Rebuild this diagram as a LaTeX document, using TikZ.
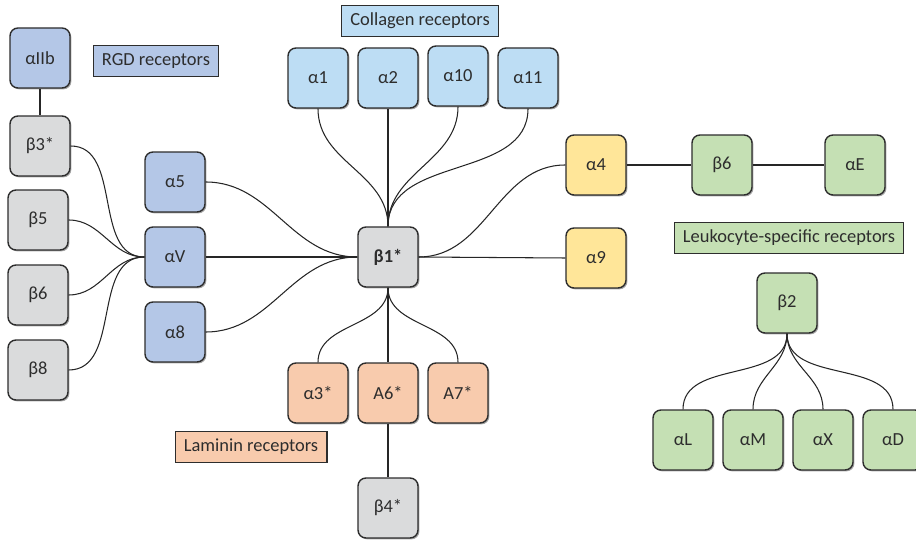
\documentclass[tikz,border=0pt]{standalone}
\usepackage{fontspec}
\setmainfont{Carlito}
\usepackage{tikz}
\usetikzlibrary{
    positioning,
    shadows
}
\definecolor{gridGrey}{RGB}{218, 219, 220}
\definecolor{rgdBlue}{RGB}{180, 199, 231}
\definecolor{colBlue}{RGB}{189, 221, 244}
\definecolor{lamPeach}{RGB}{248, 203, 173}
\definecolor{leuYellow}{RGB}{255, 230, 153}
\definecolor{leuGreen}{RGB}{197, 224, 180}
\definecolor{inkGrey}{RGB}{45, 45, 45}

\begin{document}
\begin{tikzpicture}[x=0.02cm, y=0.02cm,
        font=\fontsize{10.5}{12}\selectfont, text=inkGrey,
        unit/.style={draw=inkGrey, line width=0.8pt, rounded corners=4.5pt,
            minimum width=1.2cm, minimum height=1.2cm, inner sep=0pt,
            drop shadow={shadow xshift=0.8pt, shadow yshift=-0.8pt, fill=black, opacity=0.35}},
        tag/.style={draw=inkGrey, line width=0.6pt, minimum height=0.63cm, inner xsep=5pt},
        bond/.style={line width=0.6pt, draw=black!85}]
        \useasboundingbox (0,0) rectangle (916,-543);

        % RGD receptors
        \node[unit, fill=rgdBlue] (aIIb) at (40,-58) {αIIb};
        \node[tag, fill=rgdBlue] (rgd) at (156,-61) {RGD receptors};
        \node[unit, fill=gridGrey] (b3) at (40,-146) {β3*};
        \node[unit, fill=gridGrey] (b5) at (38,-220) {β5};
        \node[unit, fill=gridGrey] (b6) at (38,-295) {β6};
        \node[unit, fill=gridGrey] (b8) at (38,-370) {β8};
        \node[unit, fill=rgdBlue] (a5) at (175,-182) {α5};
        \node[unit, fill=rgdBlue] (aV) at (175,-257) {αV};
        \node[unit, fill=rgdBlue] (a8) at (175,-332) {α8};

        % Centre
        \node[unit, fill=gridGrey, font=\fontsize{10.5}{12}\selectfont\bfseries] (b1) at (388,-257) {β1*};

        % Collagen receptors
        \node[tag, fill=colBlue] (col) at (420,-21) {Collagen receptors};
        \node[unit, fill=colBlue] (a1) at (318,-78) {α1};
        \node[unit, fill=colBlue] (a2) at (388,-78) {α2};
        \node[unit, fill=colBlue] (a10) at (458,-76) {α10};
        \node[unit, fill=colBlue] (a11) at (528,-78) {α11};

        % Laminin receptors
        \node[unit, fill=lamPeach] (a3) at (318,-393) {α3*};
        \node[unit, fill=lamPeach] (A6) at (388,-393) {A6*};
        \node[unit, fill=lamPeach] (A7) at (458,-393) {A7*};
        \node[tag, fill=lamPeach] (lam) at (251,-447) {Laminin receptors};
        \node[unit, fill=gridGrey] (b4) at (388,-508) {β4*};

        % Leukocyte-specific receptors
        \node[unit, fill=leuYellow] (a4) at (596,-165) {α4};
        \node[unit, fill=leuYellow] (a9) at (596,-258) {α9};
        \node[unit, fill=leuGreen] (b6g) at (722,-165) {β6};
        \node[unit, fill=leuGreen] (aE) at (855,-165) {αE};
        \node[tag, fill=leuGreen] (leu) at (789,-238) {Leukocyte-specific receptors};
        \node[unit, fill=leuGreen] (b2) at (787,-303) {β2};
        \node[unit, fill=leuGreen] (aL) at (683,-440) {αL};
        \node[unit, fill=leuGreen] (aM) at (753,-440) {αM};
        \node[unit, fill=leuGreen] (aX) at (823,-440) {αX};
        \node[unit, fill=leuGreen] (aD) at (893,-440) {αD};

        % Bonds
        \draw[bond] (aIIb) -- (b3);
        \foreach \b in {b3, b5, b6, b8}
            \draw[bond] (\b.east) to[out=0, in=180] (aV.west);
        \draw[bond] (a5.east) to[out=0, in=180] (b1.west);
        \draw[bond] (aV.east) -- (b1.west);
        \draw[bond] (a8.east) to[out=0, in=180] (b1.west);
        \foreach \a in {a1, a10, a11}
            \draw[bond] (b1.north) to[out=90, in=-90] (\a.south);
        \draw[bond] (b1.north) -- (a2.south);
        \draw[bond] (b1.south) to[out=-90, in=90] (a3.north);
        \draw[bond] (b1.south) -- (A6.north);
        \draw[bond] (b1.south) to[out=-90, in=90] (A7.north);
        \draw[bond] (A6) -- (b4);
        \draw[bond] (b1.east) to[out=0, in=180] (a4.west);
        \draw[bond] (b1.east) -- (a9.west);
        \draw[bond] (a4) -- (b6g);
        \draw[bond] (b6g) -- (aE);
        \foreach \a in {aL, aM, aX, aD}
            \draw[bond] (b2.south) to[out=-90, in=90] (\a.north);
    \end{tikzpicture}
\end{document}
